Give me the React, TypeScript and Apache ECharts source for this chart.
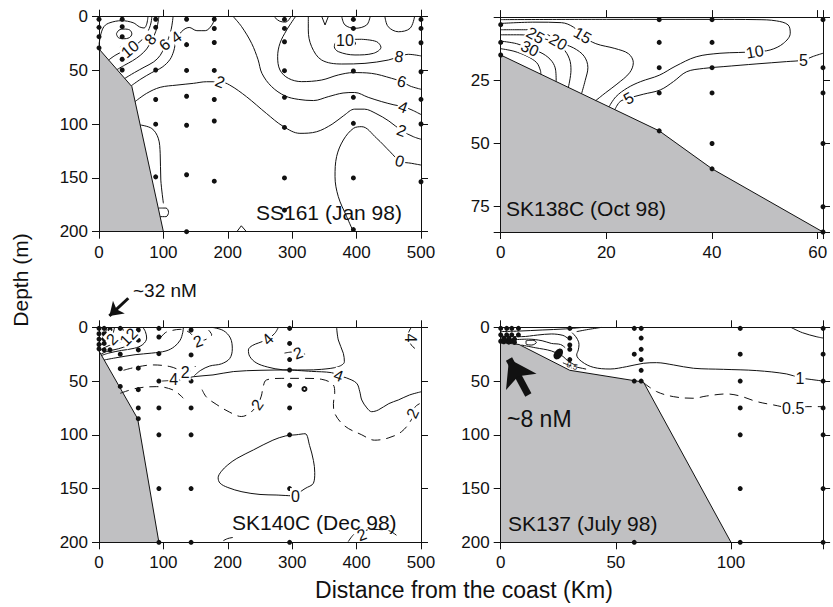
import React, { useEffect, useRef } from 'react';
import * as echarts from 'echarts';

const FONT = '"Liberation Sans", Arial, Helvetica, sans-serif';
const INK = '#111111';
const GRAY = '#c0c0c2';

// ---------- panel axes ----------
const panelTitles = ['SS161 (Jan 98)', 'SK138C (Oct 98)', 'SK140C (Dec 98)', 'SK137 (July 98)'];
const xMaxes = [500, 61, 500, 140];
const xIntervals = [100, 20, 100, 50];
const yMaxes = [200, 85, 200, 200];
const yIntervals = [50, 25, 50, 50];
const yHideZero = [false, true, false, false];

// ---------- bathymetry (distance km, depth m) ----------
const seabed1 = [[0, 30], [51, 65], [100, 200]];
const seabed2 = [[0, 15], [30, 45], [40, 60], [61, 85]];
const seabed3 = [[0, 22], [60, 85], [93, 200]];
const seabed4 = [[0, 14], [8, 16], [30, 40], [62, 51], [100, 200]];

// ---------- sampling stations ----------
const dots1 = [
  [0, 2.4], [0, 9.9], [0, 18.6], [0, 29],
  [36, 2.4], [36, 9.3], [36, 18.6], [36, 29.4], [36, 39.6], [36, 49.6],
  [88, 2.4], [88, 9.9], [88, 23], [88, 49.6], [88, 77], [88, 100], [88, 149],
  [136, 2.4], [136, 26], [136, 50], [136, 74], [136, 101], [136, 147], [136, 200],
  [179, 2.4], [179, 11], [179, 24], [179, 50], [179, 77], [179, 97], [179, 153],
  [288, 2.5], [288, 10.9], [288, 23.3], [288, 50.2], [288, 75], [288, 103], [288, 150], [288, 180],
  [395, 2.5], [395, 10.9], [395, 24.8], [395, 50.5], [395, 75], [395, 99.2], [395, 150], [395, 198],
  [500, 2.5], [500, 10.9], [500, 24.2], [500, 51.2], [500, 76.9], [500, 99.8], [500, 153.5],
];
const dots2 = [
  [0, 3], [0, 10], [0, 15],
  [30, 1], [30, 10], [30, 20], [30, 30], [30, 45],
  [40, 1], [40, 10], [40, 20], [40, 30], [40, 50], [40, 60],
  [61, 1], [61, 20], [61, 30], [61, 50], [61, 75], [61, 85],
];
const dots3 = [
  [0, 1], [0, 6], [0, 11], [0, 16], [0, 20],
  [8, 1], [8, 6], [8, 11], [8, 15], [8, 21],
  [17, 2], [17, 7], [17, 12], [17, 21],
  [33, 1], [33, 12], [33, 25], [33, 38.5], [33, 55],
  [61, 2.5], [61, 12], [61, 21], [61, 38], [61, 58], [61, 75], [61, 85],
  [93, 1], [93, 9], [93, 24.5], [93, 50], [93, 75], [93, 100], [93, 150], [93, 200],
  [143, 2.5], [143, 25.7], [143, 50], [143, 75], [143, 100], [143, 150], [143, 200],
  [296, 1], [296, 15], [296, 30], [296, 39.7], [296, 54], [296, 75], [296, 100], [296, 150], [296, 200],
];
const dots4 = [
  [0, 1], [0, 7], [0, 13], [1.3, 10], [1.3, 13.5],
  [2.6, 1], [2.6, 7], [2.6, 12.5], [3.5, 10], [3.5, 13.8],
  [4.8, 1], [4.8, 7], [4.8, 12.5], [6, 11], [6, 14],
  [7.7, 1], [7.7, 7],
  [30, 1], [30, 10], [30, 16.5], [30, 20.5], [30, 30],
  [58, 1], [58, 25], [58, 50], [58, 200],
  [61, 1], [61, 10], [61, 20.5], [61, 30], [61, 40], [61, 50],
  [104, 1], [104, 25], [104, 50], [104, 75], [104, 100], [104, 150], [104, 200],
  [140, 1], [140, 25], [140, 50], [140, 75], [140, 100], [140, 150], [140, 200],
];

// ---------- contour lines, SS161 ----------
const p1c12 = [[27, 16], [31, 12.5], [39, 11.5], [48, 12.5], [51, 16], [47, 19.5], [38, 20.5], [30, 19.5], [27, 16]];
const p1cOuter = [[0, 26], [3, 16], [8, 9], [17, 5.6], [35, 3.7], [53, 5.6], [63, 9.5], [70, 10.5], [74, 7], [76, 0]];
const p1c10a = [[15, 40.3], [25, 36], [38, 32], [50, 29], [62, 24], [72, 18], [78, 11], [81, 5], [82, 0]];
const p1c8a = [[28, 49.2], [40, 45], [52, 41], [64, 36], [74, 30], [80, 24], [86, 17], [90, 10], [92, 4], [93, 0]];
const p1c6a = [[40, 57.4], [55, 52], [70, 47], [85, 42], [95, 36], [102, 28], [108, 20], [112, 12], [114, 5], [115, 0]];
const p1c4a = [[50, 64.3], [65, 58], [82, 52], [98, 47], [110, 40], [116, 32], [120, 22], [128, 14], [140, 10], [152, 13], [165, 13], [175, 8], [181, 0]];
const p1c2 = [[56, 79], [74, 71.3], [95, 65.7], [121, 63.6], [146.5, 62], [167, 60.5], [188, 60.5], [203, 63.6], [229, 74.4], [260, 90], [286, 102], [312, 108.5], [338, 107], [362, 100], [380, 92], [397, 86], [412, 86], [430, 90], [450, 97], [470, 106], [488, 111.6], [500, 114]];
const p1c4b = [[208.6, 0], [221.5, 9.3], [237, 24.8], [247, 40], [253, 52.7], [268, 65], [289, 73.7], [309.5, 76.9], [333, 78], [356, 74.4], [379, 71], [397, 70.5], [418, 75], [439, 79], [458, 82], [472.5, 83.7], [486, 86.8], [500, 91]];
const p1c6b = [[305, 0], [291.4, 12.4], [281, 24.8], [277.4, 37.2], [281, 49.6], [294, 57.3], [314.7, 60.4], [345.7, 58.9], [371.6, 54.2], [394.9, 52], [423, 52.7], [454.4, 57.3], [470, 60.4], [483, 64.5], [500, 67.5]];
const p1c8b = [[325, 0], [325, 12.4], [330.2, 27.9], [345.7, 40.3], [376.8, 44], [413, 43.4], [449.2, 40.3], [465.8, 37.2], [480.3, 35], [500, 36.5]];
const p1c10b = [[407.8, 21], [431, 23.2], [437.8, 28.5], [426, 34.1], [397.5, 35.6], [371.6, 32.5], [365.4, 27.9], [369, 23.2], [382, 21.5], [407.8, 21]];
const p1c0 = [[395, 200], [384.6, 186], [371.6, 167.4], [366.5, 148.8], [369, 130], [379.4, 114.7], [395, 103.9], [408, 102.3], [431, 113], [452, 125.6], [467.4, 134.3], [485.5, 136.4], [500, 138]];
const p1t1 = [[272, 0], [280, 4], [290, 5], [298, 0]];
const p1t2 = [[346, 0], [351, 7.7], [356, 0]];
const p1t3 = [[377, 0], [382, 7.7], [397.5, 10.8], [415.6, 7.7], [421, 0]];
const p1t4 = [[444, 0], [449, 9.3], [465, 14], [483, 10.8], [490, 0]];
const p1b1 = [[64, 100.7], [82, 104], [92, 113], [95, 127], [96, 152], [100, 173.6]];
const p1b2 = [[92.5, 178], [104, 178], [108, 182], [104, 186], [95, 186]];
const p1b3 = [[214, 200], [221, 194.5], [229, 200]];
const p1Labels = [
  [48, 30, '10', 40], [80, 21, '8', 50], [102, 26, '6', 40], [120, 19, '4', 35], [188, 60.5, '2', -20],
  [382, 21.7, '10', 0], [466, 37.2, '8', -10], [470, 60.4, '6', -15], [472, 84, '4', -20], [470, 106, '2', -20], [467, 134.3, '0', -15],
];

// ---------- contour lines, SK138C ----------
const p2c35 = [[0, 12.5], [2.5, 13.5], [5, 15.5], [6.8, 18], [7.5, 21], [7.6, 22.6]];
const p2c30 = [[0, 9.5], [3, 10.5], [5.5, 12.4], [8, 14.5], [9.7, 17.5], [10.4, 21], [10.5, 25.5]];
const p2c25 = [[0, 7], [3.5, 7], [6.5, 7.6], [9.5, 9.5], [11.8, 12.5], [13, 16.5], [13.3, 21], [12.8, 27.8]];
const p2c20 = [[0, 5], [5, 5], [8.5, 6.5], [10.9, 9.8], [13.8, 12.2], [15.8, 15.5], [16.5, 20], [16, 25], [15.3, 30.3]];
const p2c15 = [[0, 2.5], [6.5, 2], [11.5, 2.2], [13.8, 4], [15.5, 7.5], [18, 10.5], [21.6, 12.4], [24.2, 14.5], [25.1, 18], [24.4, 22], [22, 26.5], [19.8, 30], [18, 33]];
const p2c10 = [[0, 1], [20, 0.9], [40, 0.9], [48.5, 1], [52.2, 1.5], [54.4, 3.1], [54.8, 6.4], [53.5, 10.4], [51, 13], [48.1, 13.7], [45, 14], [41.5, 14.3], [37, 15.7], [33, 19.5], [30, 23], [26.5, 25.5], [24, 28], [21.8, 31.5], [20.5, 35.5]];
const p2c5 = [[21.6, 36.6], [22.6, 33.4], [24.2, 32.1], [27, 30.5], [30.2, 28.8], [32.7, 25.5], [35.2, 21.6], [38.4, 20.3], [42.1, 19.6], [48.5, 18.5], [54.1, 17.6], [57.3, 17], [59.2, 15.5], [61, 14.3]];
const p2Labels = [
  [15.5, 7.3, '15', -30], [10.9, 9.8, '20', -30], [6.6, 7.3, '25', -30], [5.5, 12.4, '30', -25],
  [48.1, 13.7, '10', 10], [57.3, 17, '5', 0], [24.2, 32.1, '5', 30],
];

// ---------- contour lines, SK140C ----------
const p3s1 = [[4, 26.2], [15, 24], [35, 21.5], [55, 19.5], [68, 16], [74, 10], [72, 4], [68, 0]];
const p3s2 = [[3, 25], [12, 22.5], [30, 20], [45, 16.5], [55, 10], [54, 3], [50, 0]];
const p3s3 = [[1, 22], [10, 18.5], [24, 14.5], [34, 10], [38, 4], [36, 0]];
const p3s4 = [[0, 18], [7, 14], [16, 9.5], [22, 5], [24, 0]];
const p3s5 = [[0, 14], [5, 10], [10, 5], [12, 0]];
const p3s6 = [[8, 7], [12, 5], [15, 8], [12, 11], [8, 10], [8, 7]];
const p3s7 = [[8, 30.4], [25, 28.5], [56, 25.5], [82, 24], [104, 22], [117, 18], [126, 12], [130, 5], [131, 0]];
const p3bulge = [[175, 0], [193, 3], [204, 10], [207, 20], [203, 29], [190, 34], [172, 36], [158, 40], [148, 45]];
const p3main = [[98, 50], [108, 49.6], [125, 49], [146, 46], [177, 44.3], [208.6, 41.2], [250, 40], [296.5, 39.7], [320, 39.7], [345.7, 39.1], [371.6, 36.6], [381, 32], [379.4, 24.2], [371.6, 11.8], [369, 0]];
const p3loop4 = [[278.5, 0], [273, 5.6], [262, 11], [248, 14.5], [238, 17], [232, 21], [234, 27], [244, 33], [262, 37], [285, 39.5], [296.5, 39.7]];
const p3right4 = [[296.5, 39.7], [330, 41], [361, 42.2], [372, 45], [384, 47], [400, 52], [405, 60], [408, 67.6], [416, 75], [423.4, 78.5], [433.7, 76.9], [450, 71], [464.8, 67.6], [482, 63], [500, 60]];
const p3zero = [[305, 157], [275, 156], [250, 155.5], [222, 153], [200, 149], [188, 145], [185, 140], [190, 134], [200, 128], [214, 122], [240, 114], [270, 105], [290, 101], [306, 100], [320, 99], [327, 110], [333, 124], [335, 135], [333, 145], [320, 150], [308, 155], [305, 157]];
const p3bot = [[193, 198.5], [200, 196.5], [208, 195.5]];
const p3dA = [[95, 10], [103, 5], [110, 3.4], [126, 1.9], [141, 5], [154, 13], [167, 11], [175, 7], [170, 2.5]];
const p3dB = [[38, 40], [58, 37], [84, 35], [110, 36.5], [126, 40], [134, 42], [144, 40], [150, 36]];
const p3dC = [[33, 61.4], [58.5, 56.7], [89.5, 55.2], [115, 58.3], [131, 66]];
const p3dBig = [[160, 58], [167, 65], [183, 72], [203, 79], [221, 83], [234, 80], [246, 72], [252, 64], [255, 55], [260, 49], [284, 47.5], [320, 47.5], [346, 48.4], [364, 53.7], [366, 61], [364, 71], [366, 80], [382, 92], [408, 100], [428, 105], [449, 103], [470, 97], [485, 86], [487, 80], [491, 74], [498, 71]];
const p3dD = [[288, 24], [300, 23], [309, 24], [320, 25]];
const p3dE = [[485, 0], [480, 7], [485, 16.5], [498, 22.7]];
const p3dF = [[387, 199.4], [397.5, 191.6], [408, 190], [423, 188], [449, 189], [465, 195]];
const p3Labels = [
  [262, 11, '4', 45], [372, 45, '4', -20], [116, 49, '4', 0], [134, 42, '2', 0], [154, 13, '2', 20],
  [246, 72, '2', 55], [309, 24, '2', 20], [487, 80, '2', 65], [483, 10, '4', -90], [305, 157, '0', 0],
  [408, 193, '2', 20], [46, 9, '12', 45], [20, 11, '2', 45],
];
const p3Ring = [[319, 57.4]];

// ---------- contour lines, SK137 ----------
const p4c1 = [[31, 5], [33, 10], [34, 16], [33.7, 21], [33, 25.7], [35.2, 31.9], [40.2, 37.2], [47.5, 38.8], [54.7, 36.6], [61.9, 33.5], [67.7, 32.9], [75, 35], [83.7, 38.1], [96.7, 39.1], [111.2, 40.3], [124.2, 43.4], [130, 47], [134.3, 48.4], [140, 50]];
const p4c05 = [[62, 51.5], [67.7, 59.8], [75, 64.5], [83.7, 66], [89.4, 63.9], [98.1, 62], [103.9, 63.9], [111.2, 69.1], [118.4, 72.2], [127.1, 75.3], [132.9, 73.8], [140, 73.8]];
const p4tr = [[126, 0], [131, 5], [137, 8.7], [140, 10]];
const p4a = [[0, 4], [8, 3.5], [18, 2.5], [28, 1.5], [36, 0]];
const p4b = [[2, 8.5], [9, 8.7], [16, 7.2], [22, 6.2], [27, 7.5], [29, 10]];
const p4c = [[6, 11.5], [12, 11], [18, 12.5], [22, 15], [26, 16], [28, 19]];
const p4d = [[11, 12.5], [14, 12], [15.5, 14], [13.5, 16.5], [11, 15.5], [11, 12.5]];
const p4e = [[9, 16.5], [15, 19], [22, 22], [27, 27], [29, 31], [33, 36]];
const p4f = [[27, 33], [30, 35.5], [34, 37.5], [38, 39.3]];
const p4g = [[33, 4], [38, 2], [44, 0]];
const p4Labels = [[130, 47.4, '1', 0], [127, 75.3, '0.5', 0]];
const p4SmallLabels = [[31, 36, '0.5', -20]];
const p4Blob = [[25, 24.8]];

// ---------- annotation arrows ----------
const arrow32 = [[45.5, -27], [16.1, -10.6]];
const arrow8 = [[12, 63], [3.6, 29.5]];

type Contour = { pts: number[][]; dashed?: boolean; smooth?: number };
const contours: Contour[][] = [
  [p1c12, p1cOuter, p1c10a, p1c8a, p1c6a, p1c4a, p1c2, p1c4b, p1c6b, p1c8b, p1c10b, p1c0, p1t1, p1t3, p1t4, p1b1, p1b2].map((pts) => ({ pts } as Contour))
    .concat([{ pts: p1t2, smooth: 0 }, { pts: p1b3, smooth: 0 }]),
  [p2c35, p2c30, p2c25, p2c20, p2c15, p2c10, p2c5].map((pts) => ({ pts } as Contour)),
  [p3s1, p3s2, p3s3, p3s4, p3s5, p3s6, p3s7, p3bulge, p3main, p3loop4, p3right4, p3zero, p3bot].map((pts) => ({ pts } as Contour))
    .concat([p3dA, p3dB, p3dC, p3dBig, p3dD, p3dE, p3dF].map((pts) => ({ pts, dashed: true }))),
  [p4c1, p4tr, p4a, p4b, p4c, p4d, p4e, p4g].map((pts) => ({ pts } as Contour))
    .concat([p4c05, p4f].map((pts) => ({ pts, dashed: true }))),
];
const seabeds = [seabed1, seabed2, seabed3, seabed4];
const dots = [dots1, dots2, dots3, dots4];
const labels = [p1Labels, p2Labels, p3Labels, p4Labels];

const gridRects = [
  { left: 99, top: 16.7, width: 322, height: 215 },
  { left: 500.7, top: 17.1, width: 322.3, height: 214.9 },
  { left: 99, top: 327.3, width: 322, height: 215 },
  { left: 500.7, top: 327.3, width: 322.4, height: 215 },
];

function buildOption() {
  const lineStyle = { color: INK, width: 1 };
  const grid = gridRects.map((r) => ({ ...r, containLabel: false, outerBoundsMode: 'none' }));
  const xAxis: any[] = [];
  const yAxis: any[] = [];
  for (let i = 0; i < 4; i++) {
    const xi = xIntervals[i];
    const yi = yIntervals[i];
    ['bottom', 'top'].forEach((pos) => {
      xAxis.push({
        gridIndex: i, type: 'value', min: 0, max: xMaxes[i], interval: xi, position: pos, z: 10,
        axisLine: { show: true, onZero: false, lineStyle },
        axisTick: { show: true, inside: false, length: 7, lineStyle },
        axisLabel: {
          show: pos === 'bottom', fontSize: 17, color: INK, margin: 12, fontFamily: FONT,
          formatter: (v: number) => (Math.abs(v % xi) < 1e-9 ? String(v) : ''),
        },
        splitLine: { show: false },
      });
    });
    ['left', 'right'].forEach((pos) => {
      yAxis.push({
        gridIndex: i, type: 'value', min: 0, max: yMaxes[i], interval: yi, inverse: true, position: pos, z: 10,
        axisLine: { show: true, onZero: false, lineStyle },
        axisTick: { show: true, inside: false, length: 7, lineStyle },
        axisLabel: {
          show: pos === 'left', fontSize: 17, color: INK, margin: 11, fontFamily: FONT,
          formatter: (v: number) => (Math.abs(v % yi) < 1e-9 && !(yHideZero[i] && v === 0) ? String(v) : ''),
        },
        splitLine: { show: false },
      });
    });
  }

  const labelStyle = {
    show: true, position: 'inside', color: INK, fontFamily: FONT, fontSize: 16, opacity: 1,
    textBorderWidth: 0, textBorderColor: 'transparent', textShadowBlur: 0,
  };

  const series: any[] = [];
  for (let i = 0; i < 4; i++) {
    const ax = { xAxisIndex: 2 * i, yAxisIndex: 2 * i };
    series.push({
      type: 'line', ...ax, data: seabeds[i], symbol: 'none', silent: true, z: 2,
      lineStyle, areaStyle: { color: GRAY, opacity: 1, origin: 'end' },
    });
    contours[i].forEach((c) => {
      series.push({
        type: 'line', ...ax, data: c.pts, symbol: 'none', showSymbol: false, silent: true, z: 3,
        smooth: c.smooth === undefined ? 0.35 : c.smooth, clip: true,
        lineStyle: { color: INK, width: 1, type: c.dashed ? [9, 6] : 'solid' },
      });
    });
    series.push({
      type: 'scatter', ...ax, data: dots[i], symbol: 'circle', symbolSize: 5, silent: true, z: 5,
      itemStyle: { color: INK, opacity: 1 },
    });
    series.push({
      type: 'scatter', ...ax, symbolSize: 0.01, silent: true, z: 8,
      itemStyle: { color: INK, opacity: 1 },
      label: { ...labelStyle, backgroundColor: '#fff', padding: [0, 1] },
      data: labels[i].map((l: any[]) => ({ value: [l[0], l[1]], label: { formatter: l[2], rotate: l[3] } })),
    });
  }
  // extra marks
  series.push({
    type: 'scatter', xAxisIndex: 4, yAxisIndex: 4, data: p3Ring, symbol: 'emptyCircle', symbolSize: 4, silent: true, z: 5,
    itemStyle: { color: INK, borderColor: INK, borderWidth: 1, opacity: 1 },
  });
  series.push({
    type: 'scatter', xAxisIndex: 6, yAxisIndex: 6, symbolSize: 0.01, silent: true, z: 8,
    itemStyle: { color: INK, opacity: 1 },
    label: { ...labelStyle, fontSize: 8 },
    data: p4SmallLabels.map((l: any[]) => ({ value: [l[0], l[1]], label: { formatter: l[2], rotate: l[3] } })),
  });
  series.push({
    type: 'scatter', xAxisIndex: 6, yAxisIndex: 6, data: p4Blob, symbol: 'circle', symbolSize: [8, 12], symbolRotate: -35,
    silent: true, z: 5, itemStyle: { color: INK, opacity: 1 },
  });
  series.push({
    type: 'lines', coordinateSystem: 'cartesian2d', xAxisIndex: 4, yAxisIndex: 4, clip: false, silent: true, z: 12,
    symbol: ['none', 'arrow'], symbolSize: [1, 13],
    lineStyle: { color: INK, width: 3, opacity: 1, curveness: 0 },
    data: [{ coords: arrow32 }],
  });
  series.push({
    type: 'lines', coordinateSystem: 'cartesian2d', xAxisIndex: 6, yAxisIndex: 6, clip: false, silent: true, z: 12,
    symbol: ['none', 'arrow'], symbolSize: [1, 26],
    lineStyle: { color: INK, width: 7, opacity: 1, curveness: 0 },
    data: [{ coords: arrow8 }],
  });

  const txt = (text: string, x: number, y: number, fontSize: number, align = 'left', rotation = 0) => ({
    type: 'text', x, y, rotation, z: 20,
    style: { text, fontSize, fontFamily: FONT, fill: INK, align, verticalAlign: 'middle' },
  });
  const graphic = [
    txt(panelTitles[0], 256, 212, 21),
    txt(panelTitles[1], 506, 208, 21),
    txt(panelTitles[2], 232, 522, 21),
    txt(panelTitles[3], 508, 523, 21),
    txt('~32 nM', 133, 290, 19),
    txt('~8 nM', 507, 419, 23),
    txt('Depth (m)', 20, 280, 21, 'center', Math.PI / 2),
    txt('Distance from the coast (Km)', 464, 590, 23, 'center'),
  ];

  return { animation: false, backgroundColor: '#fff', grid, xAxis, yAxis, series, graphic };
}

export default function App() {
  const ref = useRef<HTMLDivElement>(null);
  useEffect(() => {
    document.body.style.margin = '0';
    const chart = echarts.init(ref.current as HTMLDivElement, null, { renderer: 'svg' });
    chart.setOption(buildOption() as any);
    return () => chart.dispose();
  }, []);
  return <div ref={ref} style={{ width: 833, height: 607, background: '#fff' }} />;
}
